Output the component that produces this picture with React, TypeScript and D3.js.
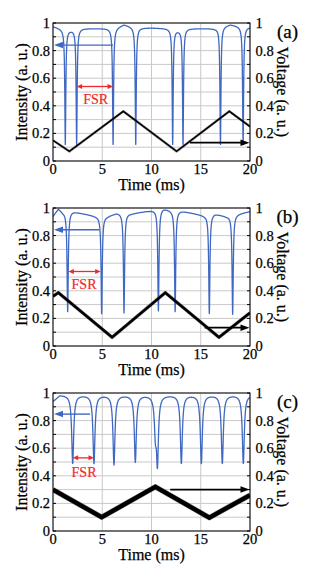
import React from 'react';
import * as d3 from 'd3';

const W = 312;
const H = 568;

const timeTicks = [0, 5, 10, 15, 20];
const timeTickLabels = ['0', '5', '10', '15', '20'];
const valueTicks = [0, 0.2, 0.4, 0.6, 0.8, 1];
const valueTickLabels = ['0', '0.2', '0.4', '0.6', '0.8', '1'];
const minorValueTicks = [0, 0.1, 0.2, 0.3, 0.4, 0.5, 0.6, 0.7, 0.8, 0.9, 1];
const panelLabels = ['(a)', '(b)', '(c)'];
const xTitle = 'Time (ms)';
const yTitleLeft = 'Intensity (a. u.)';
const yTitleRight = 'Voltage (a. u.)';
const fsrText = 'FSR';

// ---- panel (a)
const dipTimesA = [1.25, 2.4, 6.1, 8.4, 12.15, 13.2, 17.0, 19.3];
const dipMinsA = [0.12, 0.12, 0.12, 0.12, 0.12, 0.12, 0.12, 0.12];
const envTimesA = [0, 1.0, 1.8, 3, 5.5, 6.1, 7.2, 8.4, 10, 12, 12.7, 13.5, 16.5, 17, 18, 19.3, 20];
const envLevelsA = [0.975, 0.955, 0.95, 0.96, 0.96, 0.955, 0.99, 0.965, 0.965, 0.96, 0.95, 0.96, 0.96, 0.97, 0.99, 0.97, 0.97];
const voltTimesA = [0, 1.66, 7.14, 12.55, 17.9, 20];
const voltValuesA = [0.15, 0.07, 0.36, 0.07, 0.36, 0.25];
const intensityArrowA = [6.1, 0, 0.84];
const voltageArrowA = [13.9, 20, 0.133];
const fsrArrowA = [2.4, 6.1, 0.54];
const fsrLabelA = [4.33, 0.45];

// ---- panel (b)
const dipTimesB = [1.49, 4.94, 7.21, 10.7, 12.4, 15.87, 18.24];
const dipMinsB = [0.248, 0.235, 0.24, 0.255, 0.25, 0.235, 0.23];
const envTimesB = [0, 0.54, 1.0, 2.0, 4.4, 5.5, 6.5, 8, 10.2, 11.2, 12.0, 13, 15.4, 16.4, 17.6, 19, 20];
const envLevelsB = [0.94, 0.995, 0.97, 0.975, 0.94, 0.94, 0.965, 0.96, 0.985, 1.0, 0.985, 0.98, 0.945, 0.96, 0.94, 0.96, 0.975];
const voltTimesB = [0, 0.54, 6.0, 11.4, 16.85, 20];
const voltValuesB = [0.36, 0.386, 0.063, 0.386, 0.063, 0.24];
const intensityArrowB = [4.7, 0, 0.842];
const voltageArrowB = [15.4, 20, 0.133];
const fsrArrowB = [1.56, 4.84, 0.54];
const fsrLabelB = [3.15, 0.447];

// ---- panel (c)
const dipTimesC = [2.0, 4.16, 6.19, 8.36, 10.4, 10.6, 13.03, 15.06, 17.19, 19.32];
const dipMinsC = [0.49, 0.49, 0.48, 0.5, 0.72, 0.49, 0.49, 0.49, 0.49, 0.49];
const envTimesC = [0, 0.7, 5, 10, 15, 20];
const envLevelsC = [0.94, 0.985, 0.985, 0.985, 0.985, 0.985];
const voltTimesC = [0, 4.94, 10.39, 15.87, 20];
const voltValuesC = [0.3, 0.1, 0.32, 0.097, 0.26];
const intensityArrowC = [3.76, 0, 0.847];
const voltageArrowC = [11.9, 20, 0.3];
const fsrArrowC = [2.0, 4.16, 0.53];
const fsrLabelC = [3.15, 0.43];

const BLUE = '#3f68c2';
const RED = '#ee2a2a';
const GRID = '#c9c9c9';
const FONT = "'Liberation Serif', 'Times New Roman', serif";
const tx = { fontFamily: FONT };

type PanelSpec = {
  top: number;
  bottom: number;
  label: string;
  dipTimes: number[];
  dipMins: number[];
  envTimes: number[];
  envLevels: number[];
  dipWidth: number;
  voltTimes: number[];
  voltValues: number[];
  voltStroke: number;
  intensityArrow: number[];
  voltageArrow: number[];
  fsrArrow: number[];
  fsrLabel: number[];
};

const LEFT = 53;
const RIGHT = 250;

function buildTrace(spec: PanelSpec): [number, number][] {
  const env = d3.scaleLinear().domain(spec.envTimes).range(spec.envLevels).clamp(true);
  const depths = spec.dipTimes.map((c, i) => 1 - spec.dipMins[i] / env(c));
  const ts = d3.range(0, 20.0001, 0.004);
  return ts.map((t) => {
    let v = env(t);
    spec.dipTimes.forEach((c, i) => {
      const u = (t - c) / spec.dipWidth;
      v *= 1 - depths[i] / (1 + u * u);
    });
    return [t, v] as [number, number];
  });
}

function Arrow({ x1, y1, x2, y2, color, sw, hl, hw, both }: any) {
  const ang = Math.atan2(y2 - y1, x2 - x1);
  const head = (px: number, py: number, a: number) => {
    const bx = px - hl * Math.cos(a);
    const by = py - hl * Math.sin(a);
    const nx = (-Math.sin(a) * hw) / 2;
    const ny = (Math.cos(a) * hw) / 2;
    return `M${px},${py}L${bx + nx},${by + ny}L${bx - nx},${by - ny}Z`;
  };
  const sx = both ? x1 + (hl - 1) * Math.cos(ang) : x1;
  const sy = both ? y1 + (hl - 1) * Math.sin(ang) : y1;
  const ex = x2 - (hl - 1) * Math.cos(ang);
  const ey = y2 - (hl - 1) * Math.sin(ang);
  return (
    <g>
      <line x1={sx} y1={sy} x2={ex} y2={ey} stroke={color} strokeWidth={sw} />
      <path d={head(x2, y2, ang)} fill={color} />
      {both && <path d={head(x1, y1, ang + Math.PI)} fill={color} />}
    </g>
  );
}

function Panel({ spec, idx }: { spec: PanelSpec; idx: number }) {
  const x = d3.scaleLinear().domain([0, 20]).range([LEFT, RIGHT]);
  const y = d3.scaleLinear().domain([0, 1]).range([spec.bottom, spec.top]);
  const line = d3
    .line<[number, number]>()
    .x((d) => x(d[0]))
    .y((d) => y(d[1]));
  const trace = buildTrace(spec);
  const volt = spec.voltTimes.map((t, i) => [t, spec.voltValues[i]] as [number, number]);
  const clipId = `clip${idx}`;
  const cy = (spec.top + spec.bottom) / 2;
  const ink = { stroke: '#000', strokeWidth: 0.25 };
  return (
    <g>
      <defs>
        <clipPath id={clipId}>
          <rect x={LEFT} y={spec.top} width={RIGHT - LEFT} height={spec.bottom - spec.top} />
        </clipPath>
      </defs>
      {minorValueTicks.map((v) => (
        <line key={'h' + v} x1={LEFT} x2={RIGHT} y1={y(v)} y2={y(v)} stroke={GRID} strokeWidth={1} />
      ))}
      {timeTicks.map((t) => (
        <line key={'v' + t} x1={x(t)} x2={x(t)} y1={spec.top} y2={spec.bottom} stroke={GRID} strokeWidth={1} />
      ))}
      {minorValueTicks.map((v) => (
        <g key={'t' + v}>
          <line x1={LEFT} x2={LEFT + 3} y1={y(v)} y2={y(v)} stroke="#000" strokeWidth={1} />
          <line x1={RIGHT - 3} x2={RIGHT} y1={y(v)} y2={y(v)} stroke="#000" strokeWidth={1} />
        </g>
      ))}
      <g clipPath={`url(#${clipId})`}>
        <path d={line(trace) || ''} fill="none" stroke={BLUE} strokeWidth={1.3} strokeLinejoin="round" />
        <path
          d={line(volt) || ''}
          fill="none"
          stroke="#444"
          strokeOpacity={0.45}
          strokeWidth={spec.voltStroke + 1}
          strokeLinejoin="round"
        />
        <path d={line(volt) || ''} fill="none" stroke="#000" strokeWidth={spec.voltStroke} strokeLinejoin="miter" />
      </g>
      <rect
        x={LEFT}
        y={spec.top}
        width={RIGHT - LEFT}
        height={spec.bottom - spec.top}
        fill="none"
        stroke="#000"
        strokeWidth={1}
      />
      <Arrow
        x1={x(spec.intensityArrow[0])}
        y1={y(spec.intensityArrow[2])}
        x2={x(spec.intensityArrow[1]) + 1}
        y2={y(spec.intensityArrow[2])}
        color={BLUE}
        sw={1.4}
        hl={9}
        hw={6.5}
      />
      <Arrow
        x1={x(spec.voltageArrow[0])}
        y1={y(spec.voltageArrow[2])}
        x2={x(spec.voltageArrow[1]) - 0.5}
        y2={y(spec.voltageArrow[2])}
        color="#000"
        sw={1.8}
        hl={9}
        hw={6.5}
      />
      <Arrow
        x1={x(spec.fsrArrow[0])}
        y1={y(spec.fsrArrow[2])}
        x2={x(spec.fsrArrow[1])}
        y2={y(spec.fsrArrow[2])}
        color={RED}
        sw={1.3}
        hl={5.5}
        hw={5}
        both
      />
      <text
        x={x(spec.fsrLabel[0])}
        y={y(spec.fsrLabel[1])}
        dy="0.35em"
        textAnchor="middle"
        fill={RED}
        stroke={RED}
        strokeWidth={0.2}
        fontSize={14}
        style={tx}
      >
        {fsrText}
      </text>
      {valueTicks.map((v, i) => (
        <g key={'l' + v}>
          <text x={LEFT - 3} y={y(v)} dy="0.35em" textAnchor="end" fontSize={14.5} style={tx} {...ink}>
            {valueTickLabels[i]}
          </text>
          <text x={RIGHT + 5.5} y={y(v)} dy="0.35em" textAnchor="start" fontSize={14.5} style={tx} {...ink}>
            {valueTickLabels[i]}
          </text>
        </g>
      ))}
      {timeTicks.map((t, i) => (
        <text key={'x' + t} x={x(t)} y={spec.bottom + 13} textAnchor="middle" fontSize={14.5} style={tx} {...ink}>
          {timeTickLabels[i]}
        </text>
      ))}
      <text x={(LEFT + RIGHT) / 2} y={spec.bottom + 28.5} textAnchor="middle" fontSize={16} style={tx} {...ink}>
        {xTitle}
      </text>
      <text transform={`translate(27,${cy}) rotate(-90)`} textAnchor="middle" fontSize={16} style={tx} {...ink}>
        {yTitleLeft}
      </text>
      <text transform={`translate(277,${cy}) rotate(90)`} textAnchor="middle" fontSize={16} style={tx} {...ink}>
        {yTitleRight}
      </text>
      <text x={287.5} y={spec.top + 15} textAnchor="middle" fontSize={19} style={tx} {...ink}>
        {spec.label}
      </text>
    </g>
  );
}

const panels: PanelSpec[] = [
  {
    top: 23,
    bottom: 161,
    label: panelLabels[0],
    dipTimes: dipTimesA,
    dipMins: dipMinsA,
    envTimes: envTimesA,
    envLevels: envLevelsA,
    dipWidth: 0.06,
    voltTimes: voltTimesA,
    voltValues: voltValuesA,
    voltStroke: 1.6,
    intensityArrow: intensityArrowA,
    voltageArrow: voltageArrowA,
    fsrArrow: fsrArrowA,
    fsrLabel: fsrLabelA,
  },
  {
    top: 208,
    bottom: 346,
    label: panelLabels[1],
    dipTimes: dipTimesB,
    dipMins: dipMinsB,
    envTimes: envTimesB,
    envLevels: envLevelsB,
    dipWidth: 0.07,
    voltTimes: voltTimesB,
    voltValues: voltValuesB,
    voltStroke: 2.6,
    intensityArrow: intensityArrowB,
    voltageArrow: voltageArrowB,
    fsrArrow: fsrArrowB,
    fsrLabel: fsrLabelB,
  },
  {
    top: 393,
    bottom: 531,
    label: panelLabels[2],
    dipTimes: dipTimesC,
    dipMins: dipMinsC,
    envTimes: envTimesC,
    envLevels: envLevelsC,
    dipWidth: 0.12,
    voltTimes: voltTimesC,
    voltValues: voltValuesC,
    voltStroke: 4.5,
    intensityArrow: intensityArrowC,
    voltageArrow: voltageArrowC,
    fsrArrow: fsrArrowC,
    fsrLabel: fsrLabelC,
  },
];

export default function App() {
  return (
    <svg
      width={W}
      height={H}
      viewBox={`0 0 ${W} ${H}`}
      style={{ position: 'absolute', left: 0, top: 0, background: '#fff' }}
    >
      <rect x={0} y={0} width={W} height={H} fill="#fff" />
      {panels.map((p, i) => (
        <Panel key={i} spec={p} idx={i} />
      ))}
    </svg>
  );
}
